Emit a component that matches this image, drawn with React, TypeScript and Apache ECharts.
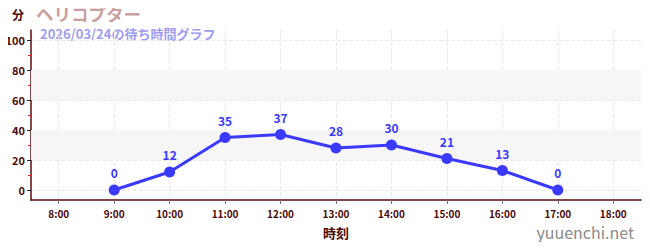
import React, { useEffect, useRef } from "react";
import * as echarts from "echarts";

const hours = [8, 9, 10, 11, 12, 13, 14, 15, 16, 17, 18];
const hourLabels = ["8:00", "9:00", "10:00", "11:00", "12:00", "13:00", "14:00", "15:00", "16:00", "17:00", "18:00"];
const waitValues: (number | null)[] = [null, 0, 12, 35, 37, 28, 30, 21, 13, 0, null];
const yLabelValues = [0, 20, 40, 60, 80, 100];
const yMinorValues = [10, 30, 50, 70, 90];
const shadedBands = [[20, 40], [60, 80]];

const titleText = "ヘリコプター";
const subtitleText = "2026/03/24の待ち時間グラフ";
const yUnit = "分";
const xName = "時刻";
const siteName = "yuuenchi.net";

export default function App() {
  const ref = useRef<HTMLDivElement>(null);
  useEffect(() => {
    const chart = echarts.init(ref.current!, null, { renderer: "svg" });
    const axisColor = "#5c0a0a";
    const labelColor = "#4a0a0a";
    const font = "'Noto Sans CJK JP', 'Noto Sans', sans-serif";
    const points = hours.map((h, i) => [h, waitValues[i]]);
    chart.setOption({
      animation: false,
      textStyle: { fontFamily: font },
      grid: { left: 31, right: 9, top: 30, bottom: 50 },
      graphic: [
        { type: "rect", left: 0, top: 0, shape: { width: 650, height: 1 }, style: { fill: "#e3e6f7" } },
        { type: "text", left: 12, top: 8, style: { text: yUnit, fill: labelColor, font: `bold 12px ${font}` } },
        { type: "text", left: 36, top: 4, style: { text: titleText, fill: "#c9a0a0", font: `bold 17.5px ${font}`, lineHeight: 18 } },
        { type: "text", left: 40, top: 27, style: { text: subtitleText, fill: "#9c9cf0", font: `bold 13px ${font}`, lineHeight: 13 } },
        { type: "text", right: 16, top: 224, style: { text: siteName, fill: "#8a8a8a", font: `16px ${font}` } },
      ],
      xAxis: {
        type: "value",
        min: 7.5,
        max: 18.5,
        name: xName,
        nameLocation: "middle",
        nameGap: 26,
        nameTextStyle: { color: labelColor, fontWeight: "bold", fontSize: 13, fontFamily: font },
        axisLine: { onZero: false, lineStyle: { color: axisColor, width: 1.5 } },
        axisTick: { show: true, length: 4, lineStyle: { color: "#777" }, customValues: hours },
        axisLabel: {
          color: labelColor,
          fontSize: 10,
          fontWeight: "bold",
          margin: 8,
          customValues: hours,
          formatter: (v: number) => hourLabels[hours.indexOf(v)] ?? "",
        },
        splitLine: { show: true, lineStyle: { color: "#e8e8e8", type: "dashed" } },
      },
      yAxis: [
        {
          type: "value",
          min: -6.6667,
          max: 106.6667,
          axisLine: { show: true, onZero: false, lineStyle: { color: axisColor, width: 1.5 } },
          axisTick: { show: true, length: 4, lineStyle: { color: "#222" }, customValues: yLabelValues },
          axisLabel: { color: labelColor, fontSize: 11, fontWeight: "bold", margin: 6, customValues: yLabelValues },
          splitLine: { show: true, lineStyle: { color: "#e8e8e8", type: "dashed" } },
        },
        {
          type: "value",
          position: "left",
          min: -6.6667,
          max: 106.6667,
          axisLine: { show: false, onZero: false },
          axisTick: { show: true, length: 3, lineStyle: { color: "#e02020" }, customValues: yMinorValues },
          axisLabel: { show: false },
          splitLine: { show: false },
        },
      ],
      series: [
        {
          type: "line",
          data: points,
          symbol: "circle",
          symbolSize: 11,
          lineStyle: { color: "#3a3aff", width: 3 },
          itemStyle: { color: "#3a3aff" },
          label: {
            show: true,
            position: "top",
            color: "#3a3aff",
            fontWeight: "bold",
            fontSize: 12,
            distance: 6,
            formatter: (p: any) => String(p.value[1]),
          },
          markArea: {
            silent: true,
            itemStyle: { color: "#f6f6f6" },
            data: shadedBands.map(([a, b]) => [{ yAxis: a }, { yAxis: b }]),
          },
          z: 3,
        },
      ],
    });
    return () => chart.dispose();
  }, []);
  return <div ref={ref} style={{ width: 650, height: 250, margin: -8 }} />;
}
